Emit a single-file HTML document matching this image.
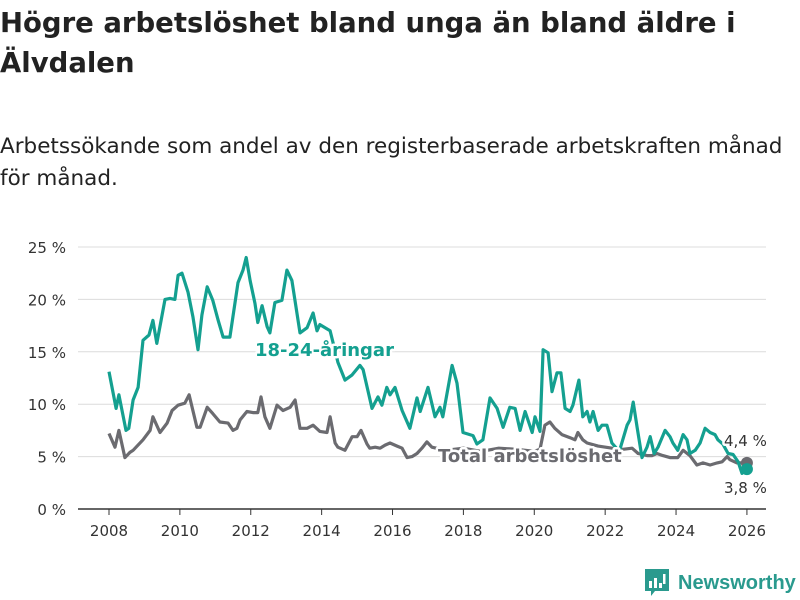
<!DOCTYPE html>
<html><head><meta charset="utf-8">
<style>
body{margin:0;width:800px;height:600px;background:#fff;font-family:"DejaVu Sans","Liberation Sans",sans-serif;overflow:hidden;position:relative}
h1{position:absolute;left:0;top:3px;margin:0;font-size:27.5px;line-height:40px;font-weight:bold;color:#222;width:790px}
.sub{position:absolute;left:0;top:131px;margin:0;font-size:21.5px;line-height:32px;color:#222;width:795px}
svg{position:absolute;left:0;top:0}
.logo{position:absolute;left:645px;top:569px;display:flex;align-items:center;color:#2a9a8e;font-size:20px;font-weight:bold;font-family:"Liberation Sans",sans-serif}
</style></head><body>
<h1>Högre arbetslöshet bland unga än bland äldre i Älvdalen</h1>
<p class="sub">Arbetssökande som andel av den registerbaserade arbetskraften månad för månad.</p>
<svg id="chart" width="800" height="600"></svg>
<div class="logo">
<svg width="24" height="28" viewBox="0 0 24 28" style="position:static;margin-right:9px"><path d="M0 0h24v22h-14l-4 5v-5h-6z" fill="#2a9a8e"/><rect x="4" y="12" width="3" height="7" fill="#fff"/><rect x="9" y="9" width="3" height="10" fill="#fff"/><rect x="14" y="14" width="3" height="5" fill="#fff"/><rect x="18" y="5" width="2.5" height="10" fill="#fff"/></svg>
<span>Newsworthy</span></div>
<script>
const yTicks=[0,5,10,15,20,25];
const xTicks=[2008,2010,2012,2014,2016,2018,2020,2022,2024,2026];
const youthT=[2008.00,2008.20,2008.28,2008.48,2008.56,2008.68,2008.82,2008.96,2009.13,2009.24,2009.35,2009.58,2009.72,2009.86,2009.95,2010.06,2010.23,2010.37,2010.51,2010.62,2010.77,2010.93,2011.08,2011.22,2011.41,2011.64,2011.78,2011.87,2011.98,2012.12,2012.20,2012.32,2012.46,2012.54,2012.68,2012.88,2013.02,2013.16,2013.39,2013.59,2013.76,2013.87,2013.95,2014.24,2014.46,2014.66,2014.86,2015.08,2015.17,2015.42,2015.59,2015.70,2015.84,2015.93,2016.07,2016.27,2016.49,2016.69,2016.78,2017.00,2017.20,2017.34,2017.42,2017.68,2017.82,2017.99,2018.27,2018.38,2018.55,2018.75,2018.95,2019.12,2019.31,2019.46,2019.60,2019.74,2019.94,2020.02,2020.16,2020.25,2020.39,2020.50,2020.64,2020.75,2020.87,2021.01,2021.09,2021.26,2021.37,2021.49,2021.57,2021.66,2021.80,2021.91,2022.05,2022.19,2022.40,2022.62,2022.70,2022.79,2022.90,2023.04,2023.18,2023.27,2023.38,2023.49,2023.69,2023.83,2023.91,2024.05,2024.20,2024.31,2024.39,2024.54,2024.68,2024.82,2024.96,2025.10,2025.18,2025.32,2025.47,2025.61,2025.75,2025.86,2026.00];
const youthV=[13.1,9.6,10.9,7.5,7.7,10.4,11.6,16.1,16.6,18,15.8,20,20.1,20,22.3,22.5,20.7,18.3,15.2,18.5,21.2,19.9,18,16.4,16.4,21.6,22.8,24,21.8,19.6,17.8,19.4,17.4,16.8,19.7,19.9,22.8,21.8,16.8,17.3,18.7,17,17.6,17,14,12.3,12.8,13.7,13.3,9.6,10.7,9.9,11.6,10.9,11.6,9.4,7.7,10.6,9.3,11.6,8.8,9.7,8.8,13.7,12,7.3,7,6.2,6.6,10.6,9.6,7.8,9.7,9.6,7.5,9.3,7.3,8.8,7.4,15.2,14.9,11.2,13,13,9.6,9.3,9.9,12.3,8.8,9.3,8.3,9.3,7.5,8,8,6.3,5.5,8,8.5,10.2,7.8,4.9,5.9,6.9,5.3,5.9,7.5,6.9,6.3,5.6,7.1,6.6,5.3,5.6,6.3,7.7,7.3,7.1,6.6,6.2,5.3,5.2,4.5,3.4,3.8];
const totalT=[2008.00,2008.17,2008.28,2008.45,2008.59,2008.68,2008.96,2009.16,2009.24,2009.44,2009.64,2009.78,2009.95,2010.14,2010.26,2010.48,2010.57,2010.77,2010.93,2011.13,2011.36,2011.50,2011.61,2011.70,2011.89,2012.06,2012.20,2012.29,2012.40,2012.54,2012.74,2012.91,2013.11,2013.25,2013.39,2013.59,2013.76,2013.95,2014.15,2014.24,2014.38,2014.46,2014.66,2014.86,2015.00,2015.11,2015.28,2015.36,2015.51,2015.65,2015.79,2015.93,2016.13,2016.27,2016.41,2016.55,2016.69,2016.83,2016.97,2017.11,2017.50,2018.00,2018.50,2019.00,2019.50,2020.00,2020.16,2020.30,2020.44,2020.58,2020.78,2021.01,2021.15,2021.23,2021.37,2021.49,2021.80,2022.20,2022.50,2022.76,2022.93,2023.18,2023.32,2023.46,2023.63,2023.83,2024.05,2024.20,2024.39,2024.59,2024.76,2024.96,2025.16,2025.30,2025.44,2025.52,2025.72,2026.00];
const totalV=[7.2,5.9,7.5,4.9,5.4,5.6,6.6,7.5,8.8,7.3,8.2,9.4,9.9,10.1,10.9,7.8,7.8,9.7,9.1,8.3,8.2,7.5,7.7,8.5,9.3,9.2,9.2,10.7,8.8,7.7,9.9,9.4,9.7,10.4,7.7,7.7,8,7.4,7.3,8.8,6.3,5.9,5.6,6.9,6.9,7.5,6.2,5.8,5.9,5.8,6.1,6.3,6.0,5.8,4.9,5.0,5.3,5.8,6.4,5.9,5.6,5.8,5.5,5.8,5.7,5.5,5.7,8,8.3,7.7,7.1,6.8,6.6,7.3,6.6,6.3,6.0,5.8,5.7,5.8,5.3,5.1,5.1,5.3,5.1,4.9,4.9,5.6,5.1,4.2,4.4,4.2,4.4,4.5,5.0,4.7,4.4,4.4];
const NS='http://www.w3.org/2000/svg';
const svg=document.getElementById('chart');
const X=t=>109+(t-2008)*35.44;
const Y=v=>509-v*10.48;
function mk(tag,attrs){const e=document.createElementNS(NS,tag);for(const k in attrs)e.setAttribute(k,attrs[k]);svg.appendChild(e);return e;}
yTicks.forEach(v=>{
  if(v>0){const g=mk('line',{x1:78,x2:766,y1:Y(v),y2:Y(v),stroke:'#dcdcdc','stroke-width':1});
  
  }
  const t=mk('text',{x:66,y:Y(v)+6,'text-anchor':'end','font-size':15,fill:'#333'});
  t.textContent=v+' %';
  
  
});
const ax=mk('line',{x1:78,x2:766,y1:509,y2:509,stroke:'#333','stroke-width':1.5});


xTicks.forEach(yr=>{
  const tk=mk('line',{x1:X(yr),x2:X(yr),y1:509,y2:515,stroke:'#333','stroke-width':1});
  
  
  const t=mk('text',{x:X(yr),y:536,'text-anchor':'middle','font-size':15,fill:'#333'});
  t.textContent=yr;
  
  
});
function path(T,V){return T.map((t,i)=>(i?'L':'M')+X(t).toFixed(1)+','+Y(V[i]).toFixed(1)).join('');}
const lt=mk('path',{d:path(totalT,totalV),fill:'none',stroke:'#6b6b70','stroke-width':3.2,'stroke-linejoin':'round'});


const ly=mk('path',{d:path(youthT,youthV),fill:'none',stroke:'#14a090','stroke-width':3.2,'stroke-linejoin':'round'});


const lastT=totalT[totalT.length-1],lastV=totalV[totalV.length-1];
const d1=mk('circle',{cx:X(lastT),cy:Y(lastV),r:6,fill:'#6b6b70'});


const yl=youthT.length-1;
const d2=mk('circle',{cx:X(youthT[yl]),cy:Y(youthV[yl]),r:6,fill:'#14a090'});


function lab(x,y,txt,fill,size,weight,name){
  const t=mk('text',{x:x,y:y,'font-size':size,'font-weight':weight,fill:fill,stroke:'#fff','stroke-width':5,'paint-order':'stroke','stroke-linejoin':'round'});
  t.textContent=txt;
  
  
}
lab(255,356,'18-24-åringar','#14a090',18,'bold','youth-series-label');
lab(438,462,'Total arbetslöshet','#6b6b70',18,'bold','total-series-label');
lab(724,446,lastV.toFixed(1).replace('.',',')+' %','#333',15,'normal','total-end-value');
lab(724,493,youthV[yl].toFixed(1).replace('.',',')+' %','#333',15,'normal','youth-end-value');
</script>
</body></html>
